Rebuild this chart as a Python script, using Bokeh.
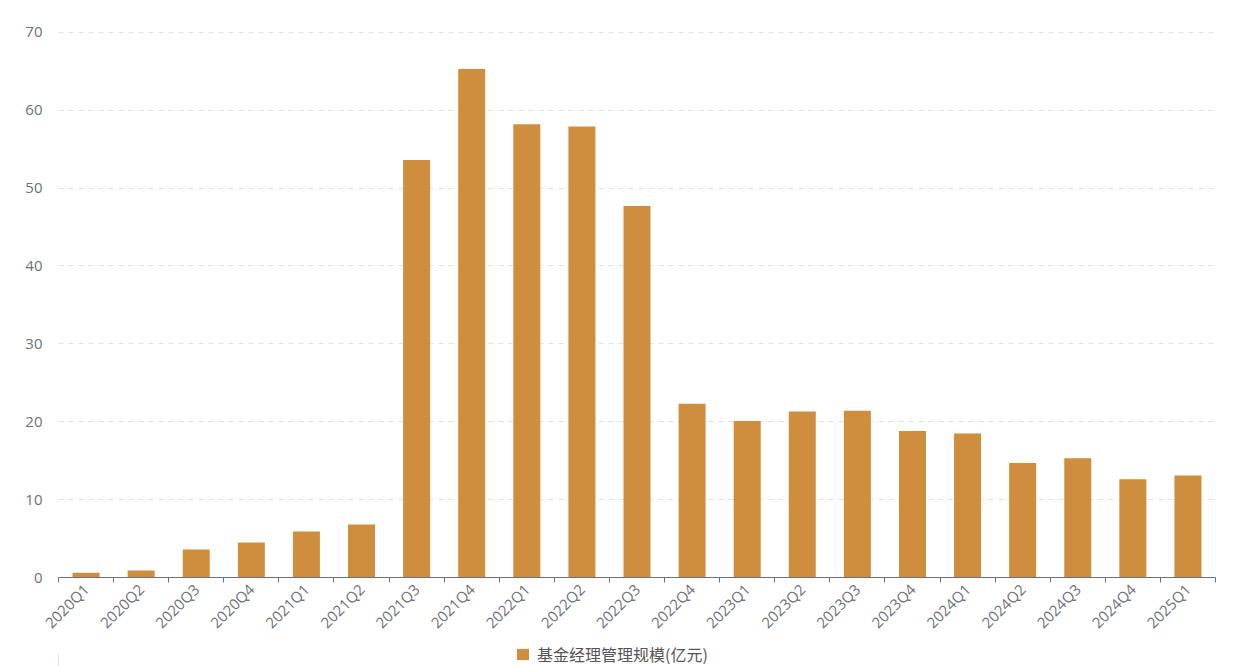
import numpy as np
from bokeh.plotting import figure
from bokeh.layouts import column
from bokeh.models import FixedTicker, Range1d, Legend, LegendItem, ColumnDataSource
from bokeh.embed import file_html
from bokeh.resources import INLINE

quarters = ["2020Q1", "2020Q2", "2020Q3", "2020Q4", "2021Q1", "2021Q2", "2021Q3", "2021Q4",
            "2022Q1", "2022Q2", "2022Q3", "2022Q4", "2023Q1", "2023Q2", "2023Q3", "2023Q4",
            "2024Q1", "2024Q2", "2024Q3", "2024Q4", "2025Q1"]
scale = [0.6, 0.9, 3.6, 4.5, 5.9, 6.8, 53.6, 65.3, 58.2, 57.9, 47.7, 22.3, 20.1, 21.3, 21.4,
         18.8, 18.5, 14.7, 15.3, 12.6, 13.1]
series_name = "基金经理管理规模(亿元)"
y_ticks = [0, 10, 20, 30, 40, 50, 60, 70]

BAR = "#cf8e3d"
n = len(quarters)
xs = [i + 0.5 for i in range(n)]
src = ColumnDataSource(dict(x=xs, top=scale))

p = figure(width=1225, height=642, output_backend="svg", toolbar_location=None,
           x_range=Range1d(0, n), y_range=Range1d(0, 70.1),
           min_border_left=58, min_border_right=10, min_border_top=31, min_border_bottom=65)
p.outline_line_color = None

r = p.vbar(x="x", top="top", width=0.49, source=src, fill_color=BAR, line_color=None)

p.xaxis.ticker = FixedTicker(ticks=xs, minor_ticks=list(range(n + 1)))
p.xaxis.major_label_overrides = {x: q for x, q in zip(xs, quarters)}
p.xaxis.major_tick_out = 0
p.xaxis.major_tick_in = 0
p.xaxis.minor_tick_out = 5
p.xaxis.minor_tick_in = 0
p.xaxis.minor_tick_line_color = "#6e7079"
p.xaxis.axis_line_color = "#6e7079"
p.xaxis.major_label_orientation = np.pi / 4
p.xaxis.major_label_text_font = "Open Sans"
p.xaxis.major_label_text_font_size = "15px"
p.xaxis.major_label_text_color = "#6e7079"
p.xaxis.major_label_standoff = 4

p.yaxis.ticker = FixedTicker(ticks=y_ticks)
p.yaxis.axis_line_color = None
p.yaxis.major_tick_line_color = None
p.yaxis.minor_tick_line_color = None
p.yaxis.major_label_text_font = "Open Sans"
p.yaxis.major_label_text_font_size = "15px"
p.yaxis.major_label_text_color = "#6e7079"
p.yaxis.major_label_standoff = 10

p.xgrid.grid_line_color = None
p.ygrid.grid_line_color = "#e0e0e0"
p.ygrid.grid_line_dash = "5 5"

# legend strip below the chart
lf = figure(width=1225, height=24, output_backend="svg", toolbar_location=None,
            x_range=Range1d(0, 1), y_range=Range1d(0, 1),
            min_border_left=58, min_border_right=10, min_border_top=0, min_border_bottom=0)
lf.axis.visible = False
lf.grid.grid_line_color = None
lf.outline_line_color = None
dummy = lf.vbar(x=[-100], top=[0.5], width=0.5, fill_color=BAR, line_color=None)
legend = Legend(items=[LegendItem(label=series_name, renderers=[dummy])], location=(457, 0),
                orientation="horizontal", border_line_color=None, background_fill_alpha=0,
                label_text_font="Noto Sans CJK SC", label_text_font_size="16px",
                label_text_color="#555555", glyph_width=15, glyph_height=14,
                padding=0, margin=0, label_standoff=7)
lf.add_layout(legend, "center")

open("out.html", "w").write(file_html(column(p, lf, spacing=0), INLINE))
